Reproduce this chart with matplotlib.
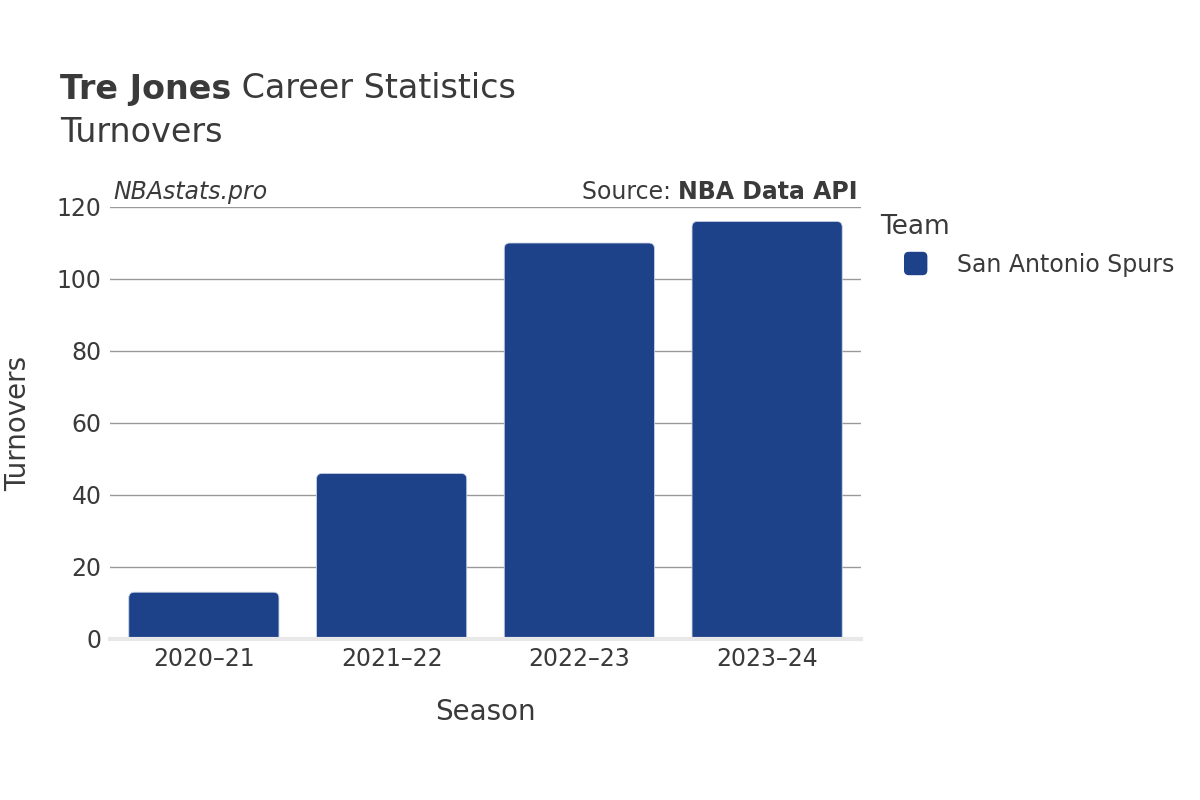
import matplotlib
matplotlib.use('Agg')
import matplotlib.pyplot as plt
from matplotlib.patches import FancyBboxPatch, Patch
from matplotlib.legend_handler import HandlerPatch

# datos
seasons   = ['2020–21', '2021–22', '2022–23', '2023–24']
turnovers = [13, 46, 110, 116]
team      = 'San Antonio Spurs'
player    = 'Tre Jones'

BAR_COLOR = '#1d428a'
TXT       = '#3a3a3a'

plt.rcParams['font.family'] = ['DejaVu Sans']

fig = plt.figure(figsize=(12, 8), dpi=100)
ax = fig.add_axes([110/1200, 1-639/800, 751/1200, 432/800])

bars = ax.bar(range(len(seasons)), turnovers, width=0.8, color=BAR_COLOR)

# barras con esquinas redondeadas
px_x = 751 / 4.0     # pixeles por unidad x
px_y = 432 / 120.0   # pixeles por unidad y
rx = 0.03            # radio en unidades de x
ry = rx * px_x / px_y
for rect in bars:
    x, y, w, h = rect.get_x(), rect.get_y(), rect.get_width(), rect.get_height()
    rect.set_visible(False)
    p = FancyBboxPatch((x, y - ry), w, h + ry,
                       boxstyle=f'round,pad=0,rounding_size={rx}',
                       mutation_aspect=ry/rx, facecolor=BAR_COLOR,
                       edgecolor='#c9d3e3', linewidth=0.6, zorder=2)
    ax.add_patch(p)

ax.set_xlim(-0.5, len(seasons) - 0.5)
ax.set_ylim(0, 120)
ax.set_yticks(range(0, 121, 20))
ax.set_xticks(range(len(seasons)))
ax.set_xticklabels(seasons)
ax.tick_params(axis='both', length=0, labelsize=17, colors=TXT)
ax.tick_params(axis='x', pad=6)
ax.tick_params(axis='y', pad=6)
for s in ax.spines.values():
    s.set_visible(False)
ax.grid(axis='y', color='#9a9a9a', lw=1)
ax.set_axisbelow(True)
ax.axhline(0, color='#e8e8e8', lw=3, zorder=3, clip_on=False)

ax.set_xlabel('Season', fontsize=20, color=TXT, labelpad=19)
ax.set_ylabel('Turnovers', fontsize=20, color=TXT, labelpad=18)

# textos superiores
ax.text(0.004, 1.008, 'NBAstats.pro', transform=ax.transAxes, fontsize=17,
        style='italic', color=TXT, ha='left', va='bottom')
t_src = ax.text(0.996, 1.008, 'NBA Data API', transform=ax.transAxes, fontsize=17,
                weight='bold', color=TXT, ha='right', va='bottom')

# titulo
t1 = fig.text(60/1200, 1-89/800, player, fontsize=24, weight='bold', color=TXT,
              ha='left', va='center')
fig.canvas.draw()
r = fig.canvas.get_renderer()
bb = t1.get_window_extent(r)
fig.text(bb.x1/1200, 1-89/800, ' Career Statistics', fontsize=24, color=TXT,
         ha='left', va='center')
fig.text(60/1200, 1-132/800, 'Turnovers', fontsize=24, color=TXT,
         ha='left', va='center')

bb2 = t_src.get_window_extent(r)
fig.text(bb2.x0/1200, bb2.y0/800, 'Source: ', fontsize=17, color=TXT,
         ha='right', va='bottom')


# leyenda con cuadro redondeado
def cuadro(legend, orig_handle, xdescent, ydescent, width, height, fontsize):
    s = 22 * 72 / 100.0
    cx = -xdescent + width / 2
    cy = -ydescent + height / 2
    return FancyBboxPatch((cx - s/2, cy - s/2), s, s,
                          boxstyle='round,pad=0,rounding_size=3')

handle = Patch(facecolor=BAR_COLOR, edgecolor=BAR_COLOR)
leg = fig.legend([handle], [team], title='Team', loc='upper left',
                 bbox_to_anchor=(872/1200, 1-206/800), frameon=False,
                 fontsize=17, title_fontsize=19, handlelength=3.0,
                 handletextpad=0.25, labelcolor=TXT, alignment='left',
                 borderaxespad=0, labelspacing=0.5, borderpad=0.35,
                 handler_map={Patch: HandlerPatch(patch_func=cuadro)})
leg.get_title().set_color(TXT)
leg._legend_box.sep = 9

plt.savefig('out.png', dpi=100)
